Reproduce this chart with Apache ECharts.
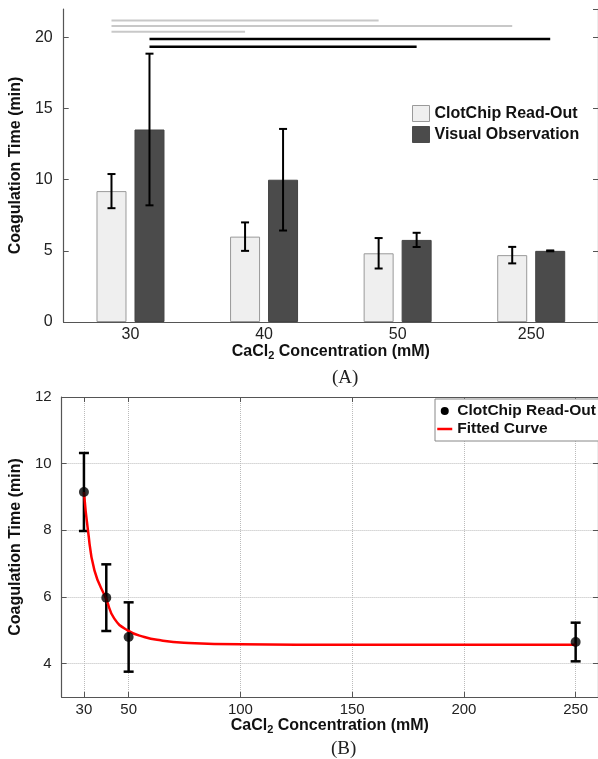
<!DOCTYPE html>
<html><head><meta charset="utf-8">
<script src="https://cdn.jsdelivr.net/npm/echarts@6/dist/echarts.min.js"></script>
<style>html,body{margin:0;padding:0;background:#fff}#c{width:598px;height:759px}</style>
</head><body><div id="c"></div>
<script>
// ---------- Panel A data ----------
const categories = ['30', '40', '50', '250'];
const clotMean = [9.2, 6.0, 4.83, 4.7];
const clotErr = [1.2, 1.0, 1.07, 0.58];
const visualMean = [13.53, 10.0, 5.77, 5.0];
const visualErr = [5.33, 3.57, 0.5, 0.03];
// significance bars: [startCategory, endCategory, yValue]
const grayBrackets = [[0, 2, 21.2], [0, 3, 20.8], [0, 1, 20.4]];
const blackBrackets = [[0, 3, 19.9], [0, 2, 19.35]];

// ---------- Panel B data ----------
const concentration = [30, 40, 50, 250];
const readMean = [9.15, 5.98, 4.8, 4.65];
const readErr = [1.17, 1.0, 1.04, 0.58];
const fitX = [30, 31.8, 34.7, 40, 43.6, 49.5, 57, 64.3, 74.7, 100, 150, 250];
const fitY = [9.15, 8.0, 6.8, 5.93, 5.35, 5.0, 4.8, 4.7, 4.63, 4.58, 4.57, 4.57];
const xTicksB = [30, 50, 100, 150, 200, 250];
const yTicksB = [4, 6, 8, 10, 12];

const FONT = "'Liberation Sans', Arial, sans-serif";
const BAR_W = 30, BAR_GAP = 8;
const OFF = (BAR_W + BAR_GAP) / 2;
const AX = '#555';

function errRender(offset, cap, lw) {
  return function (params, api) {
    const x = api.coord([api.value(0), api.value(1)])[0] + offset;
    const lo = api.coord([api.value(0), api.value(1)])[1];
    const hi = api.coord([api.value(0), api.value(2)])[1];
    const st = { stroke: '#000', lineWidth: lw };
    return { type: 'group', children: [
      { type: 'line', shape: { x1: x, y1: lo, x2: x, y2: hi }, style: st },
      { type: 'line', shape: { x1: x - cap / 2, y1: lo, x2: x + cap / 2, y2: lo }, style: st },
      { type: 'line', shape: { x1: x - cap / 2, y1: hi, x2: x + cap / 2, y2: hi }, style: st }
    ]};
  };
}
function bracketRender(offset, color, lw) {
  return function (params, api) {
    const p1 = api.coord([api.value(0), api.value(2)]);
    const p2 = api.coord([api.value(1), api.value(2)]);
    return { type: 'line', shape: { x1: p1[0] + offset, y1: p1[1], x2: p2[0] + offset, y2: p2[1] },
      style: { stroke: color, lineWidth: lw } };
  };
}

const nameRich = {
  sub: { fontSize: 11, fontWeight: 'bold', fontFamily: FONT, color: '#111', padding: [9, 0, 0, 0] }
};

const chart = echarts.init(document.getElementById('c'), null, { renderer: 'canvas' });
chart.setOption({
  animation: false,
  backgroundColor: '#fff',
  textStyle: { fontFamily: FONT },
  grid: [
    { left: 62, top: 9, width: 538, height: 313 },
    { left: 60, top: 397, width: 541, height: 300 }
  ],
  xAxis: [
    { type: 'category', gridIndex: 0, data: categories, position: 'bottom',
      axisLine: { lineStyle: { color: AX, width: 1.2 } },
      axisTick: { alignWithLabel: true, inside: true, length: 5, lineStyle: { color: AX } },
      axisLabel: { fontSize: 16, color: '#222', margin: 5, fontFamily: FONT },
      name: 'CaCl{sub|2} Concentration (mM)', nameLocation: 'middle', nameGap: 19,
      nameTextStyle: { fontSize: 16, fontWeight: 'bold', color: '#111', fontFamily: FONT, rich: nameRich } },
    { type: 'category', gridIndex: 0, data: categories, position: 'top',
      axisLine: { lineStyle: { color: AX, width: 1.2 } },
      axisTick: { alignWithLabel: true, inside: true, length: 5, lineStyle: { color: AX } },
      axisLabel: { show: false } },
    { type: 'value', gridIndex: 1, min: 20, max: 260, position: 'bottom',
      axisLine: { lineStyle: { color: AX, width: 1.2 } },
      axisTick: { inside: true, length: 5, customValues: xTicksB, lineStyle: { color: AX } },
      axisLabel: { fontSize: 15, color: '#222', margin: 5, customValues: xTicksB, fontFamily: FONT },
      splitLine: { show: true, lineStyle: { color: '#bbb', type: 'dotted', width: 1 } },
      name: 'CaCl{sub|2} Concentration (mM)', nameLocation: 'middle', nameGap: 17,
      nameTextStyle: { fontSize: 16, fontWeight: 'bold', color: '#111', fontFamily: FONT, rich: nameRich } },
    { type: 'value', gridIndex: 1, min: 20, max: 260, position: 'top',
      axisLine: { lineStyle: { color: AX, width: 1.2 } },
      axisTick: { inside: true, length: 5, customValues: xTicksB, lineStyle: { color: AX } },
      axisLabel: { show: false }, splitLine: { show: false } }
  ],
  yAxis: [
    { type: 'value', gridIndex: 0, min: 0, max: 22, interval: 5, position: 'left',
      axisLine: { show: true, lineStyle: { color: AX, width: 1.2 } },
      axisTick: { show: true, inside: true, length: 5, lineStyle: { color: AX } },
      axisLabel: { fontSize: 16, color: '#222', margin: 11, showMaxLabel: false, fontFamily: FONT },
      splitLine: { show: false },
      name: 'Coagulation Time (min)', nameLocation: 'middle', nameGap: 38,
      nameTextStyle: { fontSize: 16, fontWeight: 'bold', color: '#111', fontFamily: FONT } },
    { type: 'value', gridIndex: 0, min: 0, max: 22, interval: 5, position: 'right',
      axisLine: { show: true, lineStyle: { color: AX, width: 1.2 } },
      axisTick: { show: true, inside: true, length: 5, lineStyle: { color: AX } },
      axisLabel: { show: false }, splitLine: { show: false } },
    { type: 'value', gridIndex: 1, min: 3, max: 12, position: 'left',
      axisLine: { show: true, lineStyle: { color: AX, width: 1.2 } },
      axisTick: { show: true, inside: true, length: 5, customValues: yTicksB, lineStyle: { color: AX } },
      axisLabel: { fontSize: 15, color: '#222', margin: 10, customValues: yTicksB, fontFamily: FONT },
      splitLine: { show: true, lineStyle: { color: '#bbb', type: 'dotted', width: 1 } },
      name: 'Coagulation Time (min)', nameLocation: 'middle', nameGap: 36,
      nameTextStyle: { fontSize: 16, fontWeight: 'bold', color: '#111', fontFamily: FONT } },
    { type: 'value', gridIndex: 1, min: 3, max: 12, position: 'right',
      axisLine: { show: true, lineStyle: { color: AX, width: 1.2 } },
      axisTick: { show: true, inside: true, length: 5, customValues: yTicksB, lineStyle: { color: AX } },
      axisLabel: { show: false }, splitLine: { show: false } }
  ],
  legend: [
    { orient: 'vertical', left: 412, top: 105, itemWidth: 17, itemHeight: 16, itemGap: 4,
      padding: 0, selectedMode: false,
      textStyle: { fontSize: 16, fontWeight: 'bold', color: '#111', fontFamily: FONT },
      data: [
        { name: 'ClotChip Read-Out', icon: 'rect', itemStyle: { color: '#efefef', borderColor: '#9a9a9a', borderWidth: 1 } },
        { name: 'Visual Observation', icon: 'rect', itemStyle: { color: '#4b4b4b', borderColor: '#4b4b4b', borderWidth: 1 } }
      ] },
    { orient: 'vertical', left: 435, top: 399, itemWidth: 15, itemHeight: 8, itemGap: 2,
      padding: [4, 30, 4, 1], borderColor: '#888', borderWidth: 1, backgroundColor: '#fff',
      selectedMode: false,
      textStyle: { fontSize: 15.5, fontWeight: 'bold', color: '#111', fontFamily: FONT },
      data: [
        { name: 'ClotChip Read-Out', icon: 'circle', itemStyle: { color: '#000', borderWidth: 0 } },
        { name: 'Fitted Curve', itemStyle: { opacity: 0 }, lineStyle: { color: '#ff0000', width: 2.5 } }
      ] }
  ],
  graphic: [
    { type: 'text', left: 332, top: 369, style: { text: '(A)', font: "19px 'Liberation Serif', 'Times New Roman', serif", fill: '#222' } },
    { type: 'text', left: 331, top: 740, style: { text: '(B)', font: "19px 'Liberation Serif', 'Times New Roman', serif", fill: '#222' } }
  ],
  series: [
    { name: 'ClotChip Read-Out', type: 'bar', xAxisIndex: 0, yAxisIndex: 0, data: clotMean,
      barWidth: BAR_W, barGap: (BAR_GAP / BAR_W * 100) + '%',
      itemStyle: { color: '#efefef', borderColor: '#9a9a9a', borderWidth: 1 } },
    { name: 'Visual Observation', type: 'bar', xAxisIndex: 0, yAxisIndex: 0, data: visualMean,
      barWidth: BAR_W,
      itemStyle: { color: '#4b4b4b', borderColor: '#444', borderWidth: 1 } },
    { type: 'custom', xAxisIndex: 0, yAxisIndex: 0, z: 5,
      renderItem: errRender(-OFF, 8, 2),
      encode: { x: 0, y: [1, 2] },
      data: clotMean.map((m, i) => [i, m - clotErr[i], m + clotErr[i]]) },
    { type: 'custom', xAxisIndex: 0, yAxisIndex: 0, z: 5,
      renderItem: errRender(OFF, 8, 2),
      encode: { x: 0, y: [1, 2] },
      data: visualMean.map((m, i) => [i, m - visualErr[i], m + visualErr[i]]) },
    { type: 'custom', xAxisIndex: 0, yAxisIndex: 0, z: 5,
      renderItem: bracketRender(-OFF, '#c8c8c8', 2),
      encode: { x: [0, 1], y: 2 }, data: grayBrackets },
    { type: 'custom', xAxisIndex: 0, yAxisIndex: 0, z: 5,
      renderItem: bracketRender(OFF, '#000', 2.5),
      encode: { x: [0, 1], y: 2 }, data: blackBrackets },
    // Panel B
    { type: 'custom', xAxisIndex: 2, yAxisIndex: 2, z: 3,
      renderItem: errRender(0, 10, 2.5),
      encode: { x: 0, y: [1, 2] },
      data: concentration.map((c, i) => [c, readMean[i] - readErr[i], readMean[i] + readErr[i]]) },
    { name: 'Fitted Curve', type: 'line', xAxisIndex: 2, yAxisIndex: 2, z: 4,
      data: fitX.map((x, i) => [x, fitY[i]]), smooth: 0.5,
      showSymbol: false, symbol: 'none',
      lineStyle: { color: '#ff0000', width: 2.5 }, itemStyle: { color: '#ff0000' } },
    { name: 'ClotChip Read-Out', type: 'scatter', xAxisIndex: 2, yAxisIndex: 2, z: 6,
      data: concentration.map((c, i) => [c, readMean[i]]), symbolSize: 10,
      itemStyle: { color: '#000' } }
  ]
});
</script></body></html>
